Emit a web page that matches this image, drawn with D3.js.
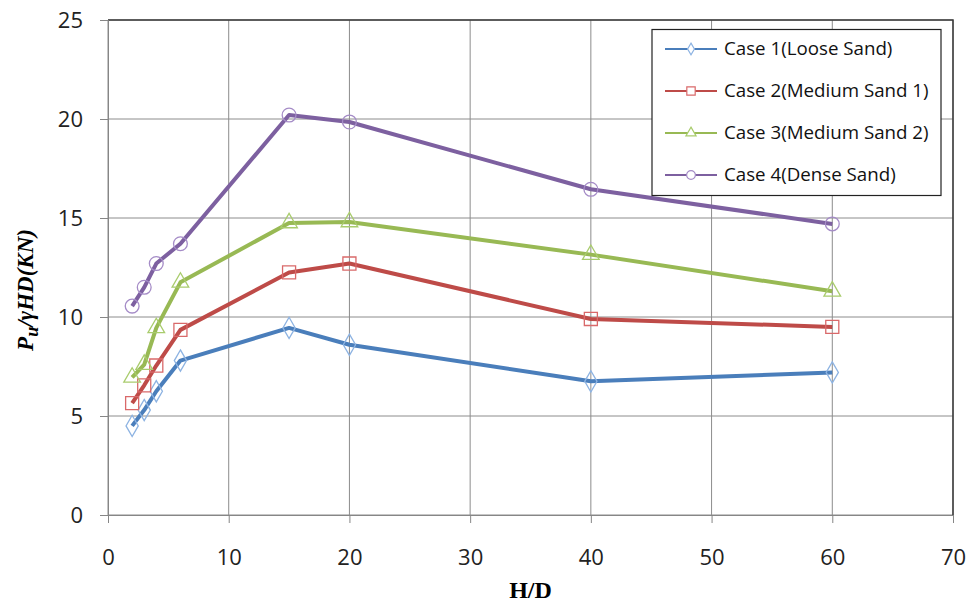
<!DOCTYPE html>
<html lang="en">
<head>
<meta charset="UTF-8">
<title>Pu/γHD vs H/D</title>
<script src="https://d3js.org/d3.v7.min.js"></script>
<style>
  body { margin: 0; background: #fff; }
  text { font-family: "Open Sans", "Liberation Sans", sans-serif; }
</style>
</head>
<body>
<script>
// data
const hd = [2, 3, 4, 6, 15, 20, 40, 60];
const case1 = [4.5, 5.3, 6.25, 7.8, 9.45, 8.6, 6.75, 7.2];
const case2 = [5.65, 6.55, 7.55, 9.35, 12.25, 12.7, 9.9, 9.5];
const case3 = [6.95, 7.6, 9.45, 11.75, 14.75, 14.8, 13.15, 11.3];
const case4 = [10.55, 11.5, 12.7, 13.7, 20.2, 19.85, 16.45, 14.7];
const seriesNames = ["Case 1(Loose Sand)", "Case 2(Medium Sand 1)", "Case 3(Medium Sand 2)", "Case 4(Dense Sand)"];
const xTicks = [0, 10, 20, 30, 40, 50, 60, 70];
const yTicks = [0, 5, 10, 15, 20, 25];

const series = [
  {name: seriesNames[0], values: case1, line: "#4a7ebb", mark: "#8db3e2", shape: "diamond"},
  {name: seriesNames[1], values: case2, line: "#be4b48", mark: "#d9696a", shape: "square"},
  {name: seriesNames[2], values: case3, line: "#98b954", mark: "#a9cc6d", shape: "triangle"},
  {name: seriesNames[3], values: case4, line: "#7d60a0", mark: "#a58cc7", shape: "circle"}
];

const W = 968, H = 606;
const svg = d3.select("body").append("svg").attr("width", W).attr("height", H);

const x = d3.scaleLinear().domain([0, 70]).range([108, 953]);
const y = d3.scaleLinear().domain([0, 25]).range([515, 20]);

// grid
svg.append("g").selectAll("line").data(xTicks).join("line")
  .attr("x1", d => x(d)).attr("x2", d => x(d))
  .attr("y1", y(25)).attr("y2", y(0))
  .attr("stroke", "#8c8c8c").attr("stroke-width", 1);
svg.append("g").selectAll("line").data(yTicks).join("line")
  .attr("x1", x(0)).attr("x2", x(70))
  .attr("y1", d => y(d)).attr("y2", d => y(d))
  .attr("stroke", "#8c8c8c").attr("stroke-width", 1);

// dark top / right frame of the plot area
svg.append("path")
  .attr("d", `M${x(0)},${y(25)}H${x(70)}V${y(0)}`)
  .attr("fill", "none").attr("stroke", "#3a3a3a").attr("stroke-width", 1.5);

// axes
const xAxis = svg.append("g").attr("transform", `translate(0,${y(0)})`)
  .call(d3.axisBottom(x).tickValues(xTicks).tickSize(8).tickPadding(26));
const yAxis = svg.append("g").attr("transform", `translate(${x(0)},0)`)
  .call(d3.axisLeft(y).tickValues(yTicks).tickSize(8).tickPadding(17));
[xAxis, yAxis].forEach(a => {
  a.select(".domain").attr("stroke", "#868686");
  a.selectAll(".tick line").attr("stroke", "#868686");
  a.selectAll("text").attr("font-size", 22).attr("fill", "#222")
    .attr("font-family", "'Open Sans', sans-serif");
});

// lines
const line = d3.line().x((d, i) => x(hd[i])).y(d => y(d));
svg.append("g").selectAll("path").data(series).join("path")
  .attr("d", d => line(d.values))
  .attr("fill", "none")
  .attr("stroke", d => d.line)
  .attr("stroke-width", 4)
  .attr("stroke-linejoin", "round");

const symbols = {
  diamond: d3.symbol().type(d3.symbolDiamond).size(130),
  square: d3.symbol().type(d3.symbolSquare).size(170),
  triangle: d3.symbol().type(d3.symbolTriangle).size(120),
  circle: d3.symbol().type(d3.symbolCircle).size(150)
};

// markers
series.forEach(s => {
  svg.append("g").selectAll("path").data(s.values).join("path")
    .attr("transform", (d, i) => `translate(${x(hd[i])},${y(d)})`)
    .attr("d", symbols[s.shape]())
    .attr("fill", "none")
    .attr("stroke", s.mark)
    .attr("stroke-width", 1.3);
});

// legend
const lg = svg.append("g");
lg.append("rect").attr("x", 652).attr("y", 29.5).attr("width", 289).attr("height", 166)
  .attr("fill", "#fff").attr("stroke", "#222").attr("stroke-width", 1.2);
const small = {
  diamond: d3.symbol().type(d3.symbolDiamond).size(40),
  square: d3.symbol().type(d3.symbolSquare).size(70),
  triangle: d3.symbol().type(d3.symbolTriangle).size(45),
  circle: d3.symbol().type(d3.symbolCircle).size(60)
};
series.forEach((s, i) => {
  const ly = 49 + i * 42;
  lg.append("line").attr("x1", 665).attr("x2", 717).attr("y1", ly).attr("y2", ly)
    .attr("stroke", s.line).attr("stroke-width", 2);
  lg.append("path").attr("transform", `translate(691,${ly})`).attr("d", small[s.shape]())
    .attr("fill", "#fff").attr("stroke", s.mark).attr("stroke-width", 1.2);
  lg.append("text").attr("transform", `translate(724,${ly}) scale(1.04,1)`)
    .attr("dy", "0.35em")
    .attr("font-size", 18).attr("fill", "#111").text(s.name);
});

// axis titles
svg.append("text").attr("x", (x(0) + x(70)) / 2).attr("y", 598)
  .attr("text-anchor", "middle")
  .style("font-family", "'Liberation Serif', serif")
  .attr("font-weight", "bold").attr("font-size", 24).text("H/D");

const yt = svg.append("text")
  .attr("transform", "translate(33,290) rotate(-90)")
  .attr("text-anchor", "middle")
  .style("font-family", "'Liberation Serif', serif")
  .attr("font-weight", "bold").attr("font-style", "italic").attr("font-size", 23);
yt.append("tspan").text("P");
yt.append("tspan").attr("dy", 5).attr("font-size", 18).text("u");
yt.append("tspan").attr("dy", -5).text("/γHD(KN)");
</script>
</body>
</html>
